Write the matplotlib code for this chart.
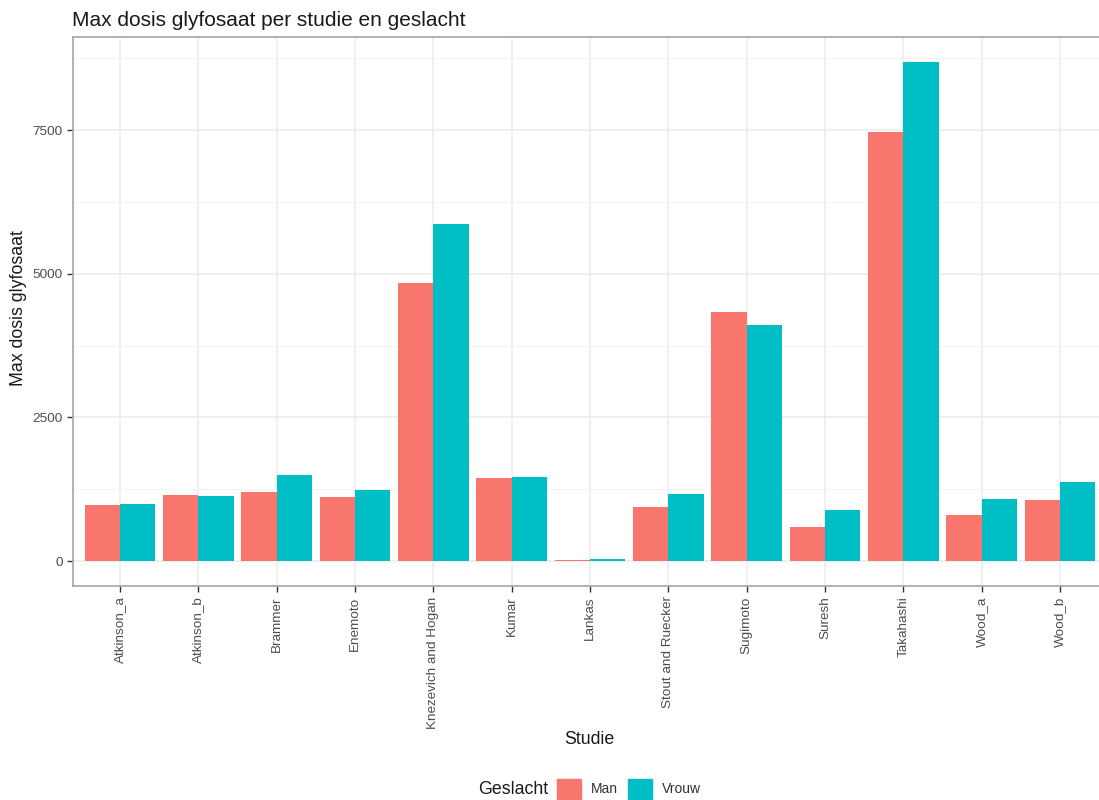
import matplotlib.pyplot as plt
import matplotlib.patches as mpatches
import numpy as np

plt.rcParams["font.family"] = ["Liberation Sans", "DejaVu Sans"]

studies = ["Atkinson_a", "Atkinson_b", "Brammer", "Enemoto", "Knezevich and Hogan",
           "Kumar", "Lankas", "Stout and Ruecker", "Sugimoto", "Suresh",
           "Takahashi", "Wood_a", "Wood_b"]
man = [984, 1146, 1205, 1123, 4835, 1448, 25, 937, 4340, 590, 7469, 805, 1071]
vrouw = [997, 1128, 1493, 1240, 5872, 1458, 30, 1175, 4109, 880, 8687, 1076, 1378]
yticks = [0, 2500, 5000, 7500]
col_man = "#F8766D"
col_vrouw = "#00BFC4"

fig = plt.figure(figsize=(10.99, 8.0), dpi=100)
ax = fig.add_axes([73 / 1099, 214 / 800, (1107 - 73) / 1099, (586 - 37) / 800])

x = np.arange(len(studies))
w = 0.45
ax.bar(x - w / 2, man, width=w, color=col_man, zorder=3)
ax.bar(x + w / 2, vrouw, width=w, color=col_vrouw, zorder=3)

top = max(max(man), max(vrouw))
pad = top * 0.05
ax.set_ylim(-pad, top + pad)
ax.set_xlim(-0.6, len(studies) - 0.4)

ax.set_yticks(yticks)
ax.set_yticks([1250, 3750, 6250, 8750], minor=True)
ax.set_xticks(x)
ax.set_xticklabels(studies, rotation=90)
ax.grid(which="major", color="#EBEBEB", linewidth=1.1, zorder=0)
ax.grid(which="minor", axis="y", color="#F3F3F3", linewidth=0.7, zorder=0)
ax.tick_params(axis="both", which="major", labelsize=9.7, colors="#333333",
               labelcolor="#4D4D4D", length=4, width=1)
ax.tick_params(axis="y", which="minor", length=0)
for s in ax.spines.values():
    s.set_color("#A6A6A6")
    s.set_linewidth(1.2)

ax.set_title("Max dosis glyfosaat per studie en geslacht", loc="left",
             fontsize=15, color="#1A1A1A", pad=8, x=-0.001)
fig.text(19 / 1099, 1 - 308 / 800, "Max dosis glyfosaat", rotation=90,
         ha="center", va="center", fontsize=12.8, color="#1A1A1A")
fig.text(589 / 1099, 1 - 740 / 800, "Studie", ha="center", va="center",
         fontsize=12.8, color="#1A1A1A")

# legend at the bottom, title to the left of the keys
fig.text(548 / 1099, 1 - 789 / 800, "Geslacht", ha="right", va="center",
         fontsize=12.8, color="#1A1A1A")
handles = [mpatches.Patch(color=col_man, label="Man"),
           mpatches.Patch(color=col_vrouw, label="Vrouw")]
fig.legend(handles=handles, ncol=2, loc="center left",
           bbox_to_anchor=(557 / 1099, 1 - 789 / 800), frameon=False,
           fontsize=10, handlelength=1.75, handleheight=1.75,
           handletextpad=0.7, columnspacing=0.7, borderpad=0, borderaxespad=0,
           labelcolor="#333333")

fig.savefig("out.png", dpi=100)
